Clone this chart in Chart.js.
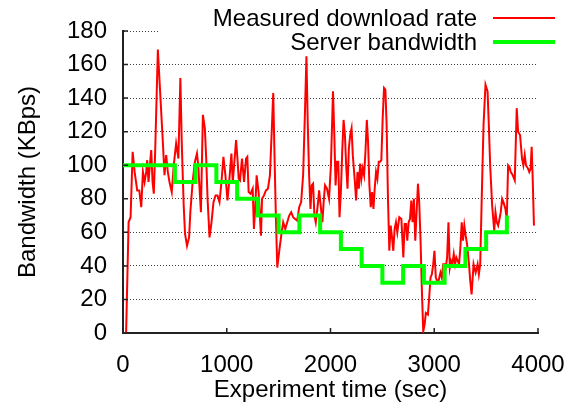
<!DOCTYPE html>
<html>
<head>
<meta charset="utf-8">
<script src="https://cdn.jsdelivr.net/npm/chart.js@4.4.1/dist/chart.umd.min.js"></script>
<style>
  html, body { margin: 0; padding: 0; background: #fff; }
</style>
</head>
<body>
<canvas id="chart" width="576" height="405"></canvas>
<script>
// measured download rate (sec, KBps)
const timeSec = [
  0,30,54,73,93,112,137,157,176,192,208,224,233,246,259,272,285,297,310,336,361,384,400,416,432,448,470,489,512,534,553,566,585,598,617,637,
  649,671,693,713,725,738,751,770,789,802,815,834,853,872,892,911,930,949,968,987,1007,1026,1045,1058,1071,1090,1103,1115,1128,1147,1167,1186,1198,1211,1230,1250,1262,1275,1288,1307,1330,
  1340,1359,1378,1397,1416,1436,1448,1461,1474,1487,1506,1525,1544,1564,1583,1602,1621,1640,1659,1679,1698,1717,1736,1755,1768,1781,1794,1807,1819,1832,1845,1858,1877,1890,1902,1922,1934,1947,1966,1986,
  2004,2024,2036,2049,2062,2075,2087,2100,2113,2126,2139,2151,2164,2177,2190,2203,2215,2235,2247,2260,2273,2286,2298,2311,2324,2337,2350,2362,2375,2388,2401,2414,2426,2439,2452,2465,2478,2490,2503,2516,2529,2541,2554,2567,2580,2593,2605,2618,2631,2644,2663,
  2683,2702,2715,2728,2740,2753,2766,2779,2791,2804,2817,2830,2843,2855,2868,2881,2894,2907,2919,2939,2951,2964,2977,2990,3002,3015,3028,3041,3060,3073,3086,3098,3111,3124,3137,3150,3162,3175,3188,3201,3213,3226,3239,3252,3265,3277,3290,3303,3316,
  3335,3347,3360,3379,3399,3418,3430,3443,3456,3475,3494,3514,3526,3539,3558,3578,3590,3603,3616,3629,3641,3654,3667,3686,3699,3712,3725,3737,3757,3776,3795,3808,3827,3846,3859,3872,3884,3904,3916,3929,3939,3948,3961
];
const rateKBps = [
  0,0,66,69,108,96,85,85,75,96,90,96,103,90,100,109,90,83,108,169,140,114,94,106,96,90,84,100,113,104,152,114,76,59,52,57,
  72,90,102,107,100,86,72,130,122,104,80,57,66,78,82,82,78,90,105,94,79,92,107,90,100,115,104,92,91,104,90,104,105,84,83,86,62,75,94,84,58,
  80,82,85,86,94,124,143,104,68,39,49,58,66,62,66,70,72,69,68,67,75,78,94,134,165,124,94,74,88,89,70,66,76,85,78,66,78,88,86,80,
  100,144,120,88,102,102,69,84,108,127,118,100,86,110,118,122,106,90,79,96,86,101,92,98,94,108,127,114,88,75,84,74,86,96,92,102,102,103,128,146,145,124,80,49,64,57,49,62,66,60,69,
  68,45,65,65,55,66,68,79,66,80,55,72,89,78,55,25,1,5,12,11,21,33,35,41,49,33,31,31,36,33,41,41,39,45,66,39,43,41,47,41,45,43,41,51,66,55,64,58,53,
  41,31,23,41,36,41,35,41,76,124,148,144,124,100,76,61,72,66,64,68,72,80,78,74,68,100,99,96,94,91,134,120,118,104,100,106,100,98,96,98,111,94,64
];

// server bandwidth steps (start sec, KBps)
const bwTimes = [0,500,700,900,1100,1300,1500,1700,1900,2100,2300,2500,2700,2900,3100,3300,3500,3700];
const bwKBps = [100,90,100,90,80,70,60,70,60,50,40,30,40,30,40,50,60,70];

const xTickValues = [0, 1000, 2000, 3000, 4000];
const yTickValues = [0, 20, 40, 60, 80, 100, 120, 140, 160, 180];

const FONT = '"Liberation Sans", Arial, Helvetica, sans-serif';
Chart.defaults.font.family = FONT;
Chart.defaults.font.size = 24;
Chart.defaults.color = '#000';

// gnuplot style ticks pointing into the plot
const insideTicks = {
  id: 'insideTicks',
  afterDraw(chart) {
    const { ctx, chartArea, scales } = chart;
    ctx.save();
    ctx.strokeStyle = '#222';
    ctx.lineWidth = 1.5;
    ctx.beginPath();
    xTickValues.forEach(v => {
      const px = scales.x.getPixelForValue(v);
      ctx.moveTo(px, chartArea.bottom);
      ctx.lineTo(px, chartArea.bottom - 5);
    });
    yTickValues.forEach(v => {
      const py = scales.y.getPixelForValue(v);
      ctx.moveTo(chartArea.left, py);
      ctx.lineTo(chartArea.left + 5, py);
    });
    ctx.stroke();
    ctx.restore();
  }
};

// key in the top right corner: text right aligned, line sample after it
const sideLegend = {
  id: 'sideLegend',
  beforeDatasetsDraw(chart) {
    const ctx = chart.ctx;
    ctx.save();
    ctx.fillStyle = '#fff';
    ctx.fillRect(160, 0, 416, 54);
    ctx.restore();
  },
  afterDraw(chart) {
    const ctx = chart.ctx;
    ctx.save();
    ctx.font = '24px ' + FONT;
    ctx.textAlign = 'right';
    ctx.textBaseline = 'middle';
    chart.data.datasets.forEach((ds, i) => {
      const y = 18 + i * 24;
      ctx.fillStyle = '#000';
      ctx.fillText(ds.label, 477, y + 1);
      ctx.strokeStyle = ds.borderColor;
      ctx.lineWidth = ds.borderWidth;
      ctx.beginPath();
      ctx.moveTo(493, y);
      ctx.lineTo(555, y);
      ctx.stroke();
    });
    ctx.restore();
  }
};

new Chart(document.getElementById('chart'), {
  type: 'line',
  data: {
    datasets: [
      {
        label: 'Measured download rate',
        data: timeSec.map((t, i) => ({ x: t, y: rateKBps[i] })),
        borderColor: '#ff0000',
        borderWidth: 2,
        pointRadius: 0,
        tension: 0,
        order: 2
      },
      {
        label: 'Server bandwidth',
        data: bwTimes.map((t, i) => ({ x: t, y: bwKBps[i] })),
        borderColor: '#00ff00',
        borderWidth: 4,
        pointRadius: 0,
        stepped: 'before',
        order: 1
      }
    ]
  },
  options: {
    responsive: false,
    animation: false,
    layout: { padding: { top: 31, right: 38, left: 0, bottom: 0 } },
    plugins: { legend: { display: false }, tooltip: { enabled: false } },
    scales: {
      x: {
        type: 'linear',
        min: 0,
        max: 4000,
        afterFit: s => { s.height = 72; },
        ticks: { stepSize: 1000, padding: 10, maxRotation: 0, callback: v => String(v) },
        grid: { display: false },
        border: { display: true, color: '#222', width: 2 },
        title: { display: true, text: 'Experiment time (sec)', padding: { top: 0, bottom: 0 } }
      },
      y: {
        min: 0,
        max: 180,
        afterFit: s => { s.width = 123; },
        ticks: { stepSize: 20, padding: 16 },
        grid: { color: 'rgba(0,0,0,0.75)', lineWidth: 1, drawTicks: false },
        border: { display: true, color: '#222', width: 2, dash: [1, 2] },
        title: { display: true, text: 'Bandwidth (KBps)', padding: { top: 14, bottom: 0 } }
      }
    }
  },
  plugins: [insideTicks, sideLegend]
});
</script>
</body>
</html>
